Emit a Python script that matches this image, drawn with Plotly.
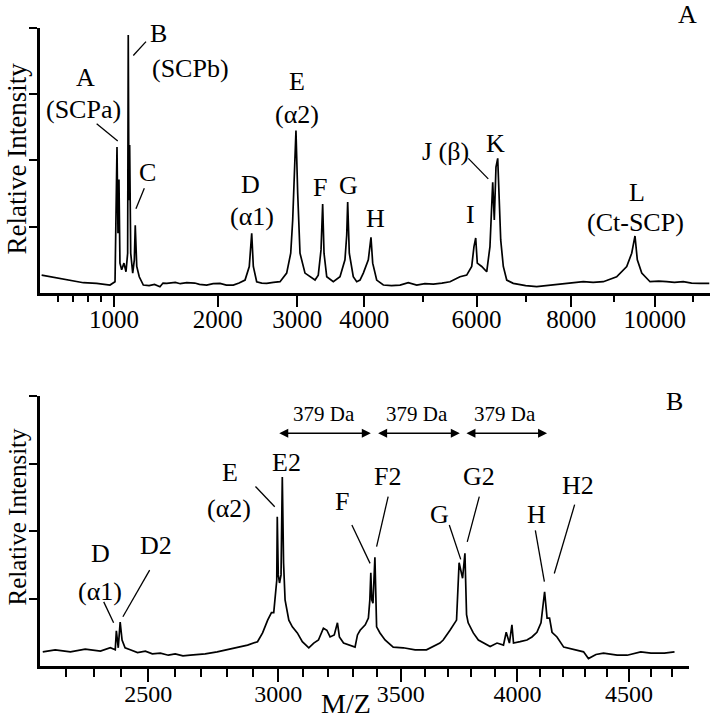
import plotly.graph_objects as go

# ---- panel A: whole spectrum (m/z, relative intensity) ----
mz_a = [505, 554, 615, 679, 770, 866, 968, 1008, 1024, 1032, 1040, 1048, 1062, 1081, 1098,
        1112, 1117, 1123, 1129, 1138, 1155, 1169, 1177, 1190, 1212, 1248, 1300, 1350, 1401,
        1430, 1466, 1550, 1600, 1666, 1750, 1800, 1878, 1950, 2027, 2100, 2181, 2250, 2322,
        2374, 2404, 2424, 2466, 2530, 2593, 2680, 2768, 2857, 2912, 2939, 2961, 2984, 3008,
        3040, 3110, 3181, 3253, 3300, 3340, 3364, 3384, 3424, 3522, 3623, 3699, 3726, 3741,
        3766, 3828, 3882, 3934, 3987, 4067, 4110, 4138, 4203, 4313, 4450, 4594, 4737, 4885,
        5030, 5183, 5340, 5491, 5679, 5808, 5905, 5949, 5983, 6014, 6101, 6200, 6265, 6320,
        6352, 6386, 6421, 6447, 6482, 6535, 6605, 6740, 7000, 7235, 7450, 7672, 7950, 8272,
        8500, 8739, 9057, 9301, 9423, 9504, 9561, 9671, 9878, 10100, 10300, 10500, 10731,
        10950, 11172, 11423]
int_a = [0.27, 0.245, 0.22, 0.185, 0.155, 0.146, 0.12, 0.17, 2.2, 0.9, 1.71, 0.45, 0.35, 0.45, 0.32,
         0.6, 3.89, 1.4, 2.23, 0.6, 0.3, 0.5, 1.02, 0.4, 0.245, 0.12, 0.11, 0.13, 0.095,
         0.15, 0.146, 0.16, 0.14, 0.155, 0.15, 0.13, 0.12, 0.14, 0.146, 0.12, 0.12, 0.15, 0.195,
         0.4, 0.9, 0.4, 0.17, 0.15, 0.146, 0.16, 0.17, 0.3, 0.6, 1.1, 1.8, 2.45, 1.5,
         0.6, 0.3, 0.245, 0.195, 0.27, 0.65, 1.34, 0.6, 0.245, 0.17, 0.245, 0.5, 0.87, 1.37,
         0.6, 0.245, 0.17, 0.195, 0.3, 0.5, 0.84, 0.45, 0.195, 0.12, 0.11, 0.12, 0.155, 0.12,
         0.14, 0.135, 0.15, 0.17, 0.245, 0.27, 0.4, 0.7, 0.83, 0.45, 0.4, 0.32, 0.7, 1.67,
         1.1, 1.9, 2.03, 1.6, 0.8, 0.4, 0.195, 0.146, 0.11, 0.095, 0.11, 0.12, 0.15, 0.17,
         0.16, 0.17, 0.245, 0.4, 0.6, 0.86, 0.5, 0.3, 0.17, 0.18, 0.17, 0.16, 0.17,
         0.15, 0.146, 0.146]

# ---- panel B: zoom on 2100-4800 ----
mz_b = [2118, 2162, 2216, 2269, 2324, 2360, 2378, 2382, 2389, 2396, 2403, 2414, 2433, 2460,
        2489, 2515, 2545, 2575, 2601, 2630, 2658, 2690, 2715, 2761, 2800, 2839, 2879, 2918,
        2938, 2958, 2973, 2982, 2986, 2994, 2996, 3000, 3005, 3011, 3016, 3021, 3027, 3035,
        3042, 3056, 3076, 3096, 3122, 3142, 3161, 3181, 3195, 3208, 3225, 3238, 3246, 3263,
        3290, 3310, 3320, 3331, 3352, 3365, 3371, 3375, 3379, 3384, 3392, 3399, 3413, 3434,
        3468, 3510, 3560, 3608, 3665, 3679, 3708, 3736, 3747, 3762, 3772, 3779, 3786, 3808,
        3830, 3852, 3881, 3911, 3939, 3951, 3965, 3976, 3983, 4012, 4042, 4064, 4086, 4104,
        4120, 4131, 4142, 4153, 4175, 4205, 4264, 4294, 4316, 4350, 4384, 4446, 4492, 4554,
        4601, 4663, 4710]
int_b = [0.21, 0.24, 0.21, 0.25, 0.22, 0.27, 0.24, 0.52, 0.27, 0.65, 0.385, 0.27, 0.24, 0.2,
         0.22, 0.18, 0.19, 0.16, 0.18, 0.15, 0.16, 0.17, 0.18, 0.21, 0.24, 0.27, 0.31, 0.36,
         0.49, 0.68, 0.79, 0.79, 0.98, 1.27, 2.21, 1.35, 1.23, 1.35, 2.8, 1.53, 0.98, 0.83,
         0.68, 0.58, 0.49, 0.36, 0.27, 0.34, 0.385, 0.56, 0.53, 0.43, 0.46, 0.64, 0.43, 0.34,
         0.31, 0.28, 0.46, 0.53, 0.61, 0.71, 0.98, 1.38, 0.98, 0.93, 1.61, 0.58, 0.49, 0.385,
         0.28, 0.27, 0.24, 0.24, 0.34, 0.385, 0.53, 0.68, 1.53, 1.3, 1.67, 0.76, 0.64, 0.49,
         0.385, 0.34, 0.29, 0.34, 0.31, 0.5, 0.34, 0.61, 0.34, 0.36, 0.385, 0.43, 0.5, 0.64,
         1.1, 0.71, 0.71, 0.5, 0.43, 0.28, 0.24, 0.21, 0.11, 0.17, 0.19, 0.16, 0.16, 0.21,
         0.19, 0.19, 0.21]

major_a = [1000, 2000, 3000, 4000, 6000, 8000, 10000]
minor_a = [600, 700, 800, 900, 5000, 7000, 9000, 11000]
major_b = [2500, 3000, 3500, 4000, 4500]
minor_b = [2200, 2300, 2400, 2600, 2700, 2800, 2900, 3100, 3200, 3300, 3400, 3600, 3700,
           3800, 3900, 4100, 4200, 4300, 4400, 4600, 4700]

# peak labels: (text, m/z, intensity)
labels_a = [("A", 787, 3.25), ("(SCPa)", 774, 2.77), ("B", 1383, 3.91), ("(SCPb)", 1700, 3.39),
            ("C", 1290, 1.82), ("D", 2395, 1.64), ("(α1)", 2408, 1.16), ("E", 3005, 3.19),
            ("(α2)", 3005, 2.69), ("F", 3318, 1.59), ("G", 3761, 1.62), ("H", 4176, 1.13),
            ("I", 5891, 1.19), ("J (β)", 5398, 2.14), ("K", 6386, 2.26), ("L", 9565, 1.52),
            ("(Ct-SCP)", 9528, 1.06)]
leaders_a = [(866, 2.55, 1030, 2.29), (1272, 3.79, 1160, 3.58), (1257, 1.58, 1183, 1.27),
             (5839, 2.03, 6231, 1.72)]

labels_b = [("D", 2324, 1.66), ("(α1)", 2324, 1.10), ("D2", 2530, 1.78), ("E", 2812, 2.86),
            ("(α2)", 2808, 2.33), ("E2", 3033, 3.01), ("F", 3257, 2.43), ("F2", 3445, 2.81),
            ("G", 3665, 2.25), ("G2", 3833, 2.81), ("H", 4083, 2.25), ("H2", 4270, 2.67)]
leaders_b = [(2336, 0.95, 2372, 0.64), (2505, 1.42, 2406, 0.73), (2910, 2.66, 2986, 2.36),
             (3297, 2.09, 3372, 1.52), (3447, 2.51, 3399, 1.77), (3705, 2.09, 3754, 1.58),
             (3834, 2.51, 3782, 1.84), (4079, 2.01, 4119, 1.25), (4254, 2.39, 4163, 1.37)]

# 379 Da spacing arrows: (start, end) in m/z, plus text centres
arrows_b = [(2998, 3375), (3399, 3750), (3772, 4131)]
arrow_text_b = [3184, 3567, 3947]


# time-of-flight style axes: position grows like a power of m/z
def ta(m):
    return m ** 0.5


def tb(m):
    return m ** 0.65


FONT = "Liberation Serif"
W, H = 711, 719


def fx(px):
    return px / W


def fy(py):
    return 1 - py / H


def txt(size):
    return dict(family=FONT, size=size, color="black")


fig = go.Figure()
fig.add_trace(go.Scatter(x=[ta(m) for m in mz_a], y=int_a, mode="lines",
                         line=dict(color="black", width=1.7), xaxis="x", yaxis="y"))
fig.add_trace(go.Scatter(x=[tb(m) for m in mz_b], y=int_b, mode="lines",
                         line=dict(color="black", width=1.7), xaxis="x2", yaxis="y2"))

annotations = []
shapes = []
for text, m, y in labels_a:
    annotations.append(dict(x=ta(m), y=y, xref="x", yref="y", text=text, showarrow=False,
                            xanchor="center", yanchor="middle", font=txt(26)))
for m0, y0, m1, y1 in leaders_a:
    shapes.append(dict(type="line", xref="x", yref="y", x0=ta(m0), y0=y0, x1=ta(m1), y1=y1,
                       line=dict(color="black", width=1.3)))
for text, m, y in labels_b:
    annotations.append(dict(x=tb(m), y=y, xref="x2", yref="y2", text=text, showarrow=False,
                            xanchor="center", yanchor="middle", font=txt(26)))
for m0, y0, m1, y1 in leaders_b:
    shapes.append(dict(type="line", xref="x2", yref="y2", x0=tb(m0), y0=y0, x1=tb(m1), y1=y1,
                       line=dict(color="black", width=1.3)))
for (m0, m1), mt in zip(arrows_b, arrow_text_b):
    annotations.append(dict(x=tb(m1), y=3.45, ax=tb(m0), ay=3.45, xref="x2", yref="y2",
                            axref="x2", ayref="y2", text="", showarrow=True, arrowhead=2,
                            arrowside="end+start", arrowsize=1.2, arrowwidth=1.5,
                            arrowcolor="black"))
    annotations.append(dict(x=tb(mt), y=3.73, xref="x2", yref="y2", text="379 Da",
                            showarrow=False, xanchor="center", yanchor="middle", font=txt(21)))

# panel letters and axis titles
for text, px, py, size, angle in [("A", 687.5, 15, 26, 0), ("B", 674, 402, 26, 0),
                                  ("Relative Intensity", 16.5, 159, 27, -90),
                                  ("Relative Intensity", 16.5, 517, 25, -90),
                                  ("M/Z", 346, 703, 28, 0)]:
    annotations.append(dict(x=fx(px), y=fy(py), xref="paper", yref="paper", text=text,
                            textangle=angle, showarrow=False, xanchor="center",
                            yanchor="middle", borderpad=0, font=txt(size)))

xcommon = dict(showgrid=False, zeroline=False, showline=True, linecolor="black", linewidth=3,
               ticks="outside", tickwidth=2, tickcolor="black", tickmode="array",
               automargin=False, tickfont=txt(25), ticklabelstandoff=-9)
ycommon = dict(showgrid=False, zeroline=False, showline=True, linecolor="black", linewidth=2.5,
               ticks="outside", ticklen=8, tickwidth=2, tickcolor="black", range=[0, 4],
               tickvals=[1, 2, 3, 4], showticklabels=False, automargin=False)

fig.update_layout(
    width=W, height=H, margin=dict(l=0, r=0, t=0, b=0),
    plot_bgcolor="white", paper_bgcolor="white", showlegend=False,
    xaxis=dict(xcommon, domain=[fx(40), fx(710)], anchor="y", range=[22.265, 106.97],
               tickvals=[ta(v) for v in major_a], ticktext=[str(v) for v in major_a],
               ticklen=11,
               minor=dict(tickmode="array", tickvals=[ta(v) for v in minor_a], ticklen=6,
                          tickwidth=2, tickcolor="black", ticks="outside")),
    yaxis=dict(ycommon, domain=[fy(293), fy(27.7)], anchor="x"),
    xaxis2=dict(xcommon, domain=[fx(40), fx(689)], anchor="y2", range=[144.73, 246.31],
                tickvals=[tb(v) for v in major_b], ticktext=[str(v) for v in major_b],
                ticklen=13, tickfont=txt(24),
                minor=dict(tickmode="array", tickvals=[tb(v) for v in minor_b], ticklen=8,
                           tickwidth=2, tickcolor="black", ticks="outside")),
    yaxis2=dict(ycommon, domain=[fy(666), fy(396)], anchor="x2"),
    annotations=annotations, shapes=shapes,
)

# drop the default page margin so the figure sits at the window's corner
fig.write_html("out.html", config={"displayModeBar": False},
               post_script="document.body.style.margin = '0';")
